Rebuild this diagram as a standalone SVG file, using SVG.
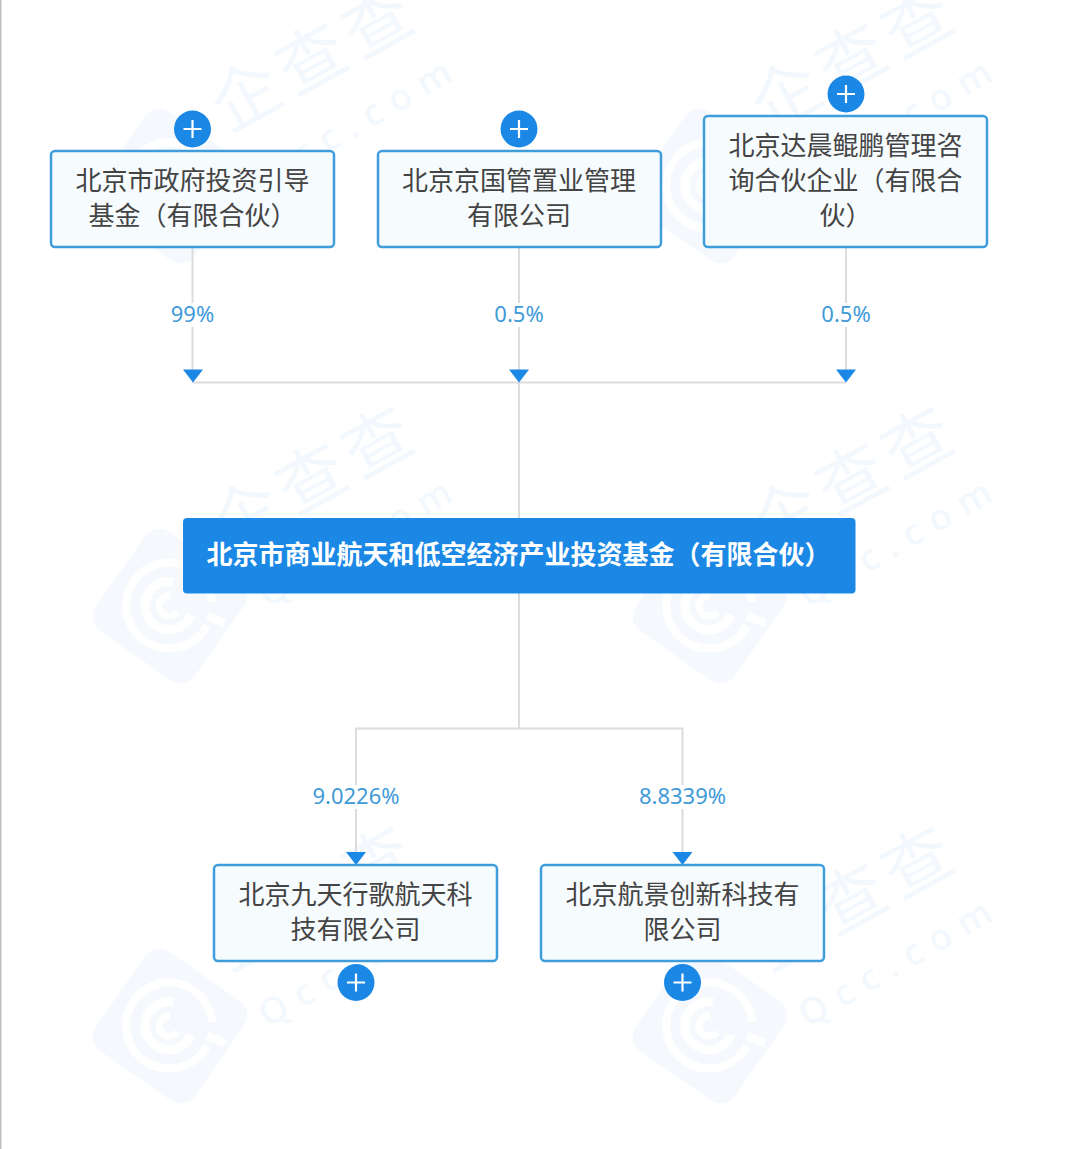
<svg xmlns="http://www.w3.org/2000/svg" width="1080" height="1149" viewBox="0 0 1080 1149">
<style>
.wt{font-family:"Noto Sans CJK SC","Noto Sans",sans-serif;font-weight:400;font-size:68px;fill:#f2f8fd;letter-spacing:7px}
.wc{font-family:"Noto Sans","Liberation Sans",sans-serif;font-size:36px;font-weight:500;fill:#f2f8fd;letter-spacing:11.500px}
.box{fill:#f6fbfe;stroke:#3f9ddc;stroke-width:2.500}
.t{font-family:"Noto Sans CJK SC","Noto Sans",sans-serif;font-size:26px;fill:#444;text-anchor:middle}
.m{font-family:"Noto Sans CJK SC","Noto Sans",sans-serif;font-size:26px;font-weight:700;fill:#fff;text-anchor:middle}
.p{font-family:"Noto Sans","Liberation Sans",sans-serif;font-size:22px;fill:#3f9ad8;text-anchor:middle}
.c{fill:none;stroke:#dcdcdc;stroke-width:2}
.a{fill:#1b88e6}
.plus{stroke:#fff;stroke-width:2.200;fill:none}
</style>
<defs>
<g id="wm">
<rect x="-57" y="-57" width="114" height="114" rx="14" fill="#f5f9fe" transform="translate(170,606) rotate(35)" stroke="#f5f9fe" stroke-width="7" stroke-linejoin="round"/>
<g fill="none" stroke="#fff" transform="translate(169,606)">
<path stroke-width="8" d="M43,-4 A43,43 0 1 0 38,20"/>
<path stroke-width="8" d="M38,10 L56,17"/>
<path stroke-width="9" d="M4,-24 A24,24 0 1 0 22,9"/>
<path stroke-width="7" d="M1,-10 A10,10 0 1 0 8,6"/>
</g>
<text class="wt" transform="translate(228,553) rotate(-29)">企查查</text>
<text class="wc" transform="translate(267.500,608) rotate(-30)">Qcc.com</text>
</g>
</defs>
<rect width="1080" height="1149" fill="#fff"/>
<rect x="0" y="0" width="1.500" height="1149" fill="#bdbdbd"/>
<g id="watermarks">
<use href="#wm" x="0" y="-420"/>
<use href="#wm" x="540" y="-420"/>
<use href="#wm"/>
<use href="#wm" x="540"/>
<use href="#wm" y="420"/>
<use href="#wm" x="540" y="420"/>
</g>
<g id="connectors">
<path class="c" d="M192.500 247V372M519 247V518M846 247V372M192.500 382.500H846"/>
<path class="c" d="M519 593V728.500M356 854V728.500H682.500V854"/>
<path class="a" d="M183 369.500H203L193 382.500ZM509 369.500H529L519 382.500ZM836 369.500H856L846 382.500ZM346 852H366L356 865ZM672.500 852H692.500L682.500 865Z"/>
<g id="edge-labels">
<rect x="168" y="303" width="49" height="24" fill="#fff"/>
<rect x="492" y="303" width="54" height="24" fill="#fff"/>
<rect x="819" y="303" width="54" height="24" fill="#fff"/>
<rect x="311" y="785" width="90" height="24" fill="#fff"/>
<rect x="638" y="785" width="90" height="24" fill="#fff"/>
<text class="p" x="192.500" y="322">99%</text>
<text class="p" x="519" y="322">0.5%</text>
<text class="p" x="846" y="322">0.5%</text>
<text class="p" x="356" y="804">9.0226%</text>
<text class="p" x="682.500" y="804">8.8339%</text>
</g>
</g>
<g id="n1">
<rect class="box" x="51" y="151" width="283" height="96" rx="4"/>
<text class="t" x="192.500" y="190">北京市政府投资引导</text>
<text class="t" x="192.500" y="225">基金（有限合伙）</text>
<circle class="a" cx="192.500" cy="129" r="18.500"/><path class="plus" d="M183.500 129H201.500M192.500 120V138"/>
</g>
<g id="n2">
<rect class="box" x="378" y="151" width="283" height="96" rx="4"/>
<text class="t" x="519" y="190">北京京国管置业管理</text>
<text class="t" x="519" y="225">有限公司</text>
<circle class="a" cx="519" cy="129" r="18.500"/><path class="plus" d="M510 129H528M519 120V138"/>
</g>
<g id="n3">
<rect class="box" x="704" y="116" width="283" height="131" rx="4"/>
<text class="t" x="845.500" y="155">北京达晨鲲鹏管理咨</text>
<text class="t" x="845.500" y="190">询合伙企业（有限合</text>
<text class="t" x="845.500" y="225">伙）</text>
<circle class="a" cx="846" cy="94" r="18.500"/><path class="plus" d="M837 94H855M846 85V103"/>
</g>
<g id="main">
<rect x="183" y="518" width="672.500" height="75.500" rx="4" fill="#1b88e6"/>
<text class="m" x="518.500" y="564">北京市商业航天和低空经济产业投资基金（有限合伙）</text>
</g>
<g id="n4">
<rect class="box" x="214" y="865" width="283" height="96" rx="4"/>
<text class="t" x="355.500" y="904">北京九天行歌航天科</text>
<text class="t" x="355.500" y="939">技有限公司</text>
<circle class="a" cx="356" cy="982.500" r="18.500"/><path class="plus" d="M347 982.500H365M356 973.500V991.500"/>
</g>
<g id="n5">
<rect class="box" x="541" y="865" width="283" height="96" rx="4"/>
<text class="t" x="682.500" y="904">北京航景创新科技有</text>
<text class="t" x="682.500" y="939">限公司</text>
<circle class="a" cx="682.500" cy="982.500" r="18.500"/><path class="plus" d="M673.500 982.500H691.500M682.500 973.500V991.500"/>
</g>
</svg>
